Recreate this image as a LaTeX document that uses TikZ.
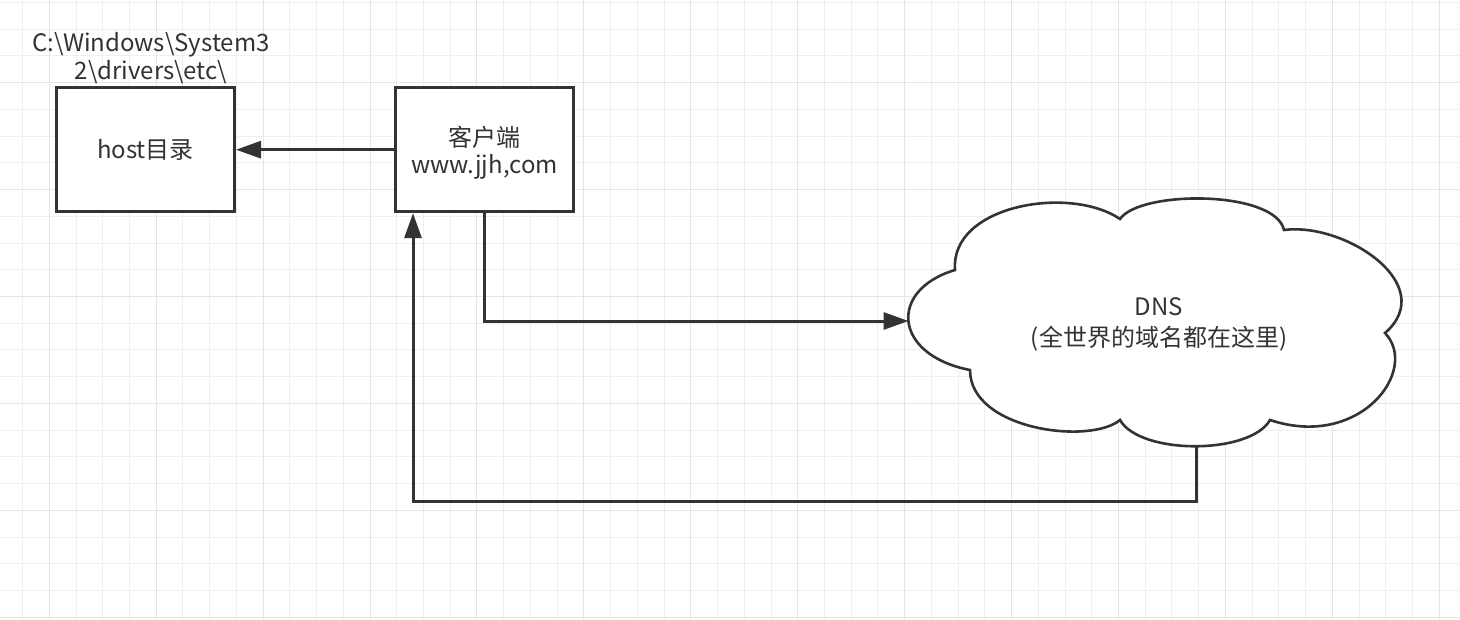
\documentclass[tikz,border=0pt]{standalone}
\usepackage{fontspec}
\setmainfont{Noto Sans CJK SC}
\usetikzlibrary{arrows.meta}
\definecolor{ink}{HTML}{333333}
\definecolor{gridminor}{HTML}{EFEFEF}
\definecolor{gridmajor}{HTML}{E5E5E5}
\begin{document}
\begin{tikzpicture}[x=0.5pt,y=-0.5pt,
  box/.style={draw=ink, line width=1.5pt, fill=white, minimum width=89pt, minimum height=62pt, inner sep=0pt, text=ink, font=\fontsize{12pt}{13.3pt}\selectfont, align=center},
  conn/.style={draw=ink, line width=1.5pt, -{Triangle[length=12.5pt,width=8.5pt]}},
  lbl/.style={text=ink, align=center, inner sep=0pt},
  minorline/.style={draw=gridminor, line width=0.5pt},
  majorline/.style={draw=gridmajor, line width=0.6pt}]
\useasboundingbox (0,0) rectangle (1460,620);
\fill[white] (0,0) rectangle (1460,620);
% grid
\foreach \i in {-1,...,53} \draw[minorline] ({floor(49.3+26.73*\i)+0.5},0) -- ({floor(49.3+26.73*\i)+0.5},620);
\foreach \j in {0,...,23} \draw[minorline] (0,{floor(2.5+26.73*\j)+0.5}) -- (1460,{floor(2.5+26.73*\j)+0.5});
\foreach \i in {0,...,13} \draw[majorline] ({floor(49.3+106.92*\i)+0.5},0) -- ({floor(49.3+106.92*\i)+0.5},620);
\foreach \j in {0,...,5} \draw[majorline] (0,{floor(82.7+106.92*\j)+0.5}) -- (1460,{floor(82.7+106.92*\j)+0.5});

% boxes
\node[box] (host) at (145.5,149.7) {host目录};
\node[box] (client) at (484.5,149.7) {\rule{0pt}{13.5pt}客户端\\www.jjh,com};
\node[lbl, font=\fontsize{12pt}{14pt}\selectfont] (path) at (151,58) {C:\textbackslash Windows\textbackslash System3\\2\textbackslash drivers\textbackslash etc\textbackslash};

% cloud
\draw[draw=ink, line width=1.3pt, fill=white]
  (955,270) .. controls (950,205) and (1070,185) .. (1120,219)
  .. controls (1140,190) and (1275,190) .. (1284,230)
  .. controls (1345,222) and (1440,285) .. (1385,333)
  .. controls (1420,370) and (1360,450) .. (1270,420)
  .. controls (1250,455) and (1140,455) .. (1120,420)
  .. controls (1090,445) and (970,430) .. (970,370)
  .. controls (893,355) and (888,290) .. cycle;
\coordinate (dnsW) at (908.5,321);
\coordinate (dnsS) at (1196,446);
\node[lbl, font=\fontsize{12pt}{15.5pt}\selectfont] (dns) at (1159,324) {DNS\\(全世界的域名都在这里)};

% connectors
\draw[conn] (client.west) -- (host.east);
\draw[conn] (client.south) |- (dnsW);
\coordinate (ret) at (413,501);
\draw[conn] (dnsS) |- (ret) -- (ret |- client.south);
\end{tikzpicture}
\end{document}
